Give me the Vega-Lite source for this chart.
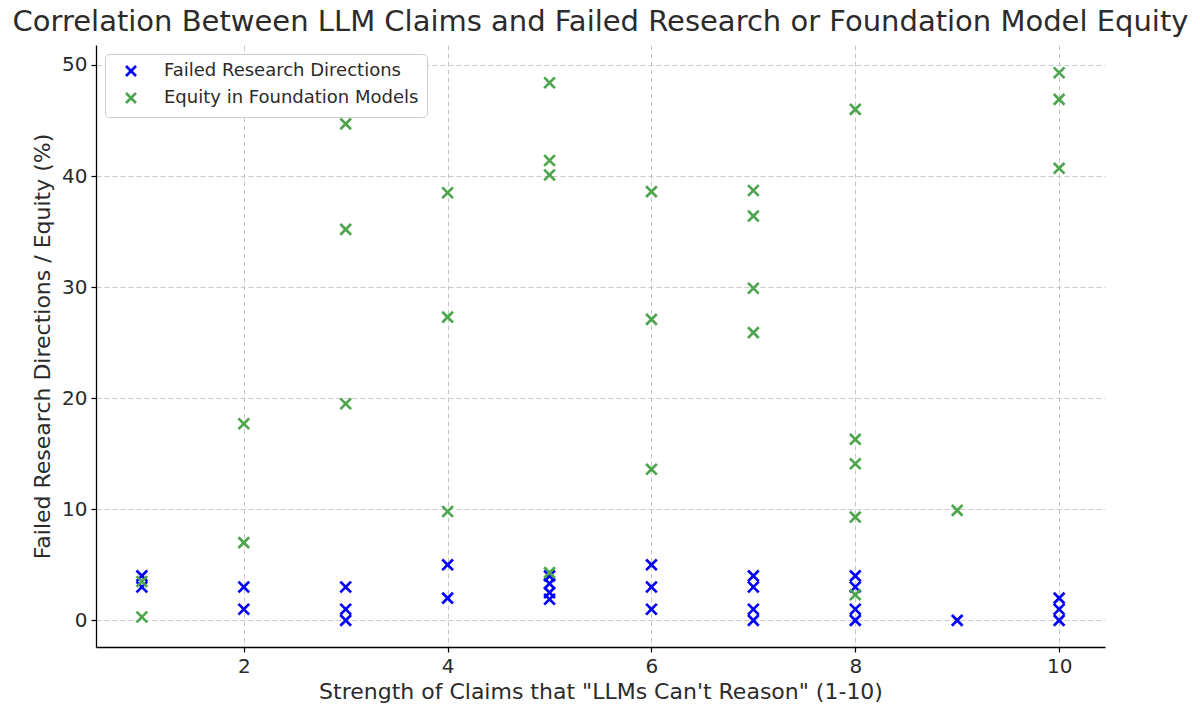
{
  "$schema": "https://vega.github.io/schema/vega-lite/v6.json",
  "width": 1009,
  "height": 602,
  "autosize": {"type": "none"},
  "padding": {"left": 96, "top": 45, "right": 95, "bottom": 70},
  "title": {"text": "Correlation Between LLM Claims and Failed Research or Foundation Model Equity", "fontSize": 29, "fontWeight": "normal", "color": "#2b2b2b", "offset": 8, "anchor": "middle"},
  "data": {"values": [
    {"x": 1, "v": 4, "s": "Failed Research Directions"},
    {"x": 1, "v": 3, "s": "Failed Research Directions"},
    {"x": 2, "v": 3, "s": "Failed Research Directions"},
    {"x": 2, "v": 1, "s": "Failed Research Directions"},
    {"x": 3, "v": 3, "s": "Failed Research Directions"},
    {"x": 3, "v": 1, "s": "Failed Research Directions"},
    {"x": 3, "v": 0, "s": "Failed Research Directions"},
    {"x": 4, "v": 5, "s": "Failed Research Directions"},
    {"x": 4, "v": 2, "s": "Failed Research Directions"},
    {"x": 5, "v": 4, "s": "Failed Research Directions"},
    {"x": 5, "v": 3.3, "s": "Failed Research Directions"},
    {"x": 5, "v": 2.5, "s": "Failed Research Directions"},
    {"x": 5, "v": 1.9, "s": "Failed Research Directions"},
    {"x": 6, "v": 5, "s": "Failed Research Directions"},
    {"x": 6, "v": 3, "s": "Failed Research Directions"},
    {"x": 6, "v": 1, "s": "Failed Research Directions"},
    {"x": 7, "v": 4, "s": "Failed Research Directions"},
    {"x": 7, "v": 3, "s": "Failed Research Directions"},
    {"x": 7, "v": 1, "s": "Failed Research Directions"},
    {"x": 7, "v": 0, "s": "Failed Research Directions"},
    {"x": 8, "v": 4, "s": "Failed Research Directions"},
    {"x": 8, "v": 3, "s": "Failed Research Directions"},
    {"x": 8, "v": 1, "s": "Failed Research Directions"},
    {"x": 8, "v": 0, "s": "Failed Research Directions"},
    {"x": 9, "v": 0, "s": "Failed Research Directions"},
    {"x": 10, "v": 2, "s": "Failed Research Directions"},
    {"x": 10, "v": 1, "s": "Failed Research Directions"},
    {"x": 10, "v": 0, "s": "Failed Research Directions"},
    {"x": 1, "v": 3.5, "s": "Equity in Foundation Models"},
    {"x": 1, "v": 0.3, "s": "Equity in Foundation Models"},
    {"x": 2, "v": 17.7, "s": "Equity in Foundation Models"},
    {"x": 2, "v": 7.0, "s": "Equity in Foundation Models"},
    {"x": 3, "v": 44.7, "s": "Equity in Foundation Models"},
    {"x": 3, "v": 35.2, "s": "Equity in Foundation Models"},
    {"x": 3, "v": 19.5, "s": "Equity in Foundation Models"},
    {"x": 4, "v": 38.5, "s": "Equity in Foundation Models"},
    {"x": 4, "v": 27.3, "s": "Equity in Foundation Models"},
    {"x": 4, "v": 9.8, "s": "Equity in Foundation Models"},
    {"x": 5, "v": 48.4, "s": "Equity in Foundation Models"},
    {"x": 5, "v": 41.4, "s": "Equity in Foundation Models"},
    {"x": 5, "v": 40.1, "s": "Equity in Foundation Models"},
    {"x": 5, "v": 4.3, "s": "Equity in Foundation Models"},
    {"x": 6, "v": 38.6, "s": "Equity in Foundation Models"},
    {"x": 6, "v": 27.1, "s": "Equity in Foundation Models"},
    {"x": 6, "v": 13.6, "s": "Equity in Foundation Models"},
    {"x": 7, "v": 38.7, "s": "Equity in Foundation Models"},
    {"x": 7, "v": 36.4, "s": "Equity in Foundation Models"},
    {"x": 7, "v": 29.9, "s": "Equity in Foundation Models"},
    {"x": 7, "v": 25.9, "s": "Equity in Foundation Models"},
    {"x": 8, "v": 46.0, "s": "Equity in Foundation Models"},
    {"x": 8, "v": 16.3, "s": "Equity in Foundation Models"},
    {"x": 8, "v": 14.1, "s": "Equity in Foundation Models"},
    {"x": 8, "v": 9.3, "s": "Equity in Foundation Models"},
    {"x": 8, "v": 2.3, "s": "Equity in Foundation Models"},
    {"x": 9, "v": 9.9, "s": "Equity in Foundation Models"},
    {"x": 10, "v": 49.3, "s": "Equity in Foundation Models"},
    {"x": 10, "v": 46.9, "s": "Equity in Foundation Models"},
    {"x": 10, "v": 40.7, "s": "Equity in Foundation Models"}
  ]},
  "mark": {"type": "point", "shape": "M-1,-1L1,1M-1,1L1,-1", "filled": false, "strokeWidth": 2.7, "size": 115, "opacity": 1},
  "encoding": {
    "x": {"field": "x", "type": "quantitative",
      "scale": {"domain": [0.55, 10.45], "nice": false, "zero": false},
      "axis": {"values": [2, 4, 6, 8, 10], "title": "Strength of Claims that \"LLMs Can't Reason\" (1-10)", "format": "d"}},
    "y": {"field": "v", "type": "quantitative",
      "scale": {"domain": [-2.4, 51.8], "nice": false, "zero": false},
      "axis": {"values": [0, 10, 20, 30, 40, 50], "title": "Failed Research Directions / Equity (%)", "format": "d"}},
    "color": {"field": "s", "type": "nominal",
      "scale": {"domain": ["Failed Research Directions", "Equity in Foundation Models"], "range": ["#0000ff", "#4da64d"]},
      "legend": {"orient": "top-left", "offset": 9, "title": null, "fillColor": "white", "strokeColor": "#cccccc", "cornerRadius": 4, "padding": 8, "labelFontSize": 18, "labelColor": "#2b2b2b", "labelLimit": 500, "symbolSize": 100, "symbolStrokeWidth": 2.7, "symbolType": "M-1,-1L1,1M-1,1L1,-1", "rowPadding": 5, "labelOffset": 24, "symbolOffset": 9}}
  },
  "config": {
    "view": {"stroke": null},
    "font": "DejaVu Sans",
    "axis": {"domainColor": "#000000", "domainWidth": 1.3, "tickColor": "#000000", "tickSize": 5, "tickWidth": 1.2, "labelFontSize": 20, "labelColor": "#2b2b2b", "labelPadding": 4, "titleFontSize": 22, "titleFontWeight": "normal", "titleColor": "#2b2b2b", "gridColor": "#c8c8c8", "gridDash": [5, 3], "gridWidth": 1, "labelFlush": false},
    "axisY": {"titlePadding": 7},
    "axisX": {"titlePadding": 5}
  }
}
